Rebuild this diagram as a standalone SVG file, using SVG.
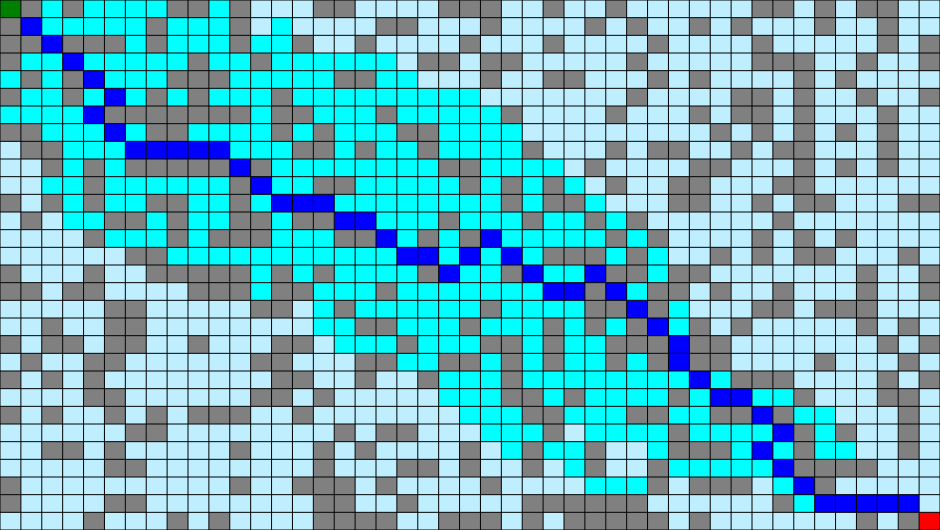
<svg xmlns="http://www.w3.org/2000/svg" width="940" height="530" viewBox="0 0 940 530">
<style>
.cells rect{width:1px;height:1px}
.g rect{fill:#808080}
.c rect{fill:#00ffff}
.b rect{fill:#0000ff}
.s rect{fill:#008000}
.r rect{fill:#ff0000}
.grid{fill:none;stroke:#000;stroke-width:1;vector-effect:non-scaling-stroke}
</style>
<rect id="background" x="0" y="0" width="940" height="530" fill="#bfefff"/>
<g id="maze" transform="scale(20.888889,17.666667)">
<g class="cells">
<g id="walls" class="g">
<rect x="1" y="0"/><rect x="3" y="0"/><rect x="8" y="0"/><rect x="9" y="0"/><rect x="11" y="0"/><rect x="15" y="0"/><rect x="16" y="0"/><rect x="21" y="0"/><rect x="22" y="0"/><rect x="23" y="0"/><rect x="26" y="0"/><rect x="29" y="0"/><rect x="36" y="0"/><rect x="37" y="0"/><rect x="39" y="0"/><rect x="41" y="0"/><rect x="42" y="0"/>
<rect x="0" y="1"/><rect x="7" y="1"/><rect x="11" y="1"/><rect x="18" y="1"/><rect x="19" y="1"/><rect x="23" y="1"/><rect x="28" y="1"/><rect x="30" y="1"/><rect x="33" y="1"/><rect x="35" y="1"/><rect x="39" y="1"/><rect x="42" y="1"/>
<rect x="0" y="2"/><rect x="1" y="2"/><rect x="3" y="2"/><rect x="4" y="2"/><rect x="5" y="2"/><rect x="7" y="2"/><rect x="11" y="2"/><rect x="14" y="2"/><rect x="17" y="2"/><rect x="22" y="2"/><rect x="26" y="2"/><rect x="31" y="2"/><rect x="36" y="2"/><rect x="42" y="2"/><rect x="44" y="2"/>
<rect x="0" y="3"/><rect x="9" y="3"/><rect x="12" y="3"/><rect x="20" y="3"/><rect x="21" y="3"/><rect x="23" y="3"/><rect x="24" y="3"/><rect x="30" y="3"/><rect x="36" y="3"/><rect x="37" y="3"/><rect x="38" y="3"/><rect x="41" y="3"/><rect x="44" y="3"/>
<rect x="1" y="4"/><rect x="3" y="4"/><rect x="8" y="4"/><rect x="9" y="4"/><rect x="10" y="4"/><rect x="16" y="4"/><rect x="17" y="4"/><rect x="23" y="4"/><rect x="26" y="4"/><rect x="27" y="4"/><rect x="31" y="4"/><rect x="33" y="4"/><rect x="38" y="4"/><rect x="40" y="4"/>
<rect x="0" y="5"/><rect x="3" y="5"/><rect x="7" y="5"/><rect x="9" y="5"/><rect x="13" y="5"/><rect x="30" y="5"/><rect x="35" y="5"/><rect x="36" y="5"/><rect x="38" y="5"/><rect x="41" y="5"/><rect x="44" y="5"/>
<rect x="5" y="6"/><rect x="6" y="6"/><rect x="7" y="6"/><rect x="8" y="6"/><rect x="9" y="6"/><rect x="10" y="6"/><rect x="11" y="6"/><rect x="13" y="6"/><rect x="14" y="6"/><rect x="18" y="6"/><rect x="24" y="6"/><rect x="29" y="6"/><rect x="33" y="6"/><rect x="35" y="6"/><rect x="36" y="6"/><rect x="38" y="6"/><rect x="42" y="6"/>
<rect x="0" y="7"/><rect x="1" y="7"/><rect x="7" y="7"/><rect x="8" y="7"/><rect x="13" y="7"/><rect x="15" y="7"/><rect x="19" y="7"/><rect x="20" y="7"/><rect x="34" y="7"/><rect x="36" y="7"/><rect x="38" y="7"/><rect x="40" y="7"/><rect x="42" y="7"/>
<rect x="1" y="8"/><rect x="2" y="8"/><rect x="14" y="8"/><rect x="15" y="8"/><rect x="17" y="8"/><rect x="20" y="8"/><rect x="25" y="8"/><rect x="29" y="8"/><rect x="31" y="8"/><rect x="32" y="8"/><rect x="35" y="8"/><rect x="37" y="8"/><rect x="38" y="8"/><rect x="42" y="8"/>
<rect x="2" y="9"/><rect x="4" y="9"/><rect x="6" y="9"/><rect x="7" y="9"/><rect x="8" y="9"/><rect x="9" y="9"/><rect x="10" y="9"/><rect x="12" y="9"/><rect x="21" y="9"/><rect x="22" y="9"/><rect x="28" y="9"/><rect x="33" y="9"/><rect x="34" y="9"/><rect x="38" y="9"/><rect x="40" y="9"/><rect x="42" y="9"/>
<rect x="4" y="10"/><rect x="11" y="10"/><rect x="15" y="10"/><rect x="16" y="10"/><rect x="22" y="10"/><rect x="24" y="10"/><rect x="26" y="10"/><rect x="29" y="10"/><rect x="32" y="10"/><rect x="33" y="10"/><rect x="37" y="10"/><rect x="38" y="10"/>
<rect x="0" y="11"/><rect x="2" y="11"/><rect x="4" y="11"/><rect x="7" y="11"/><rect x="8" y="11"/><rect x="11" y="11"/><rect x="24" y="11"/><rect x="26" y="11"/><rect x="27" y="11"/><rect x="32" y="11"/><rect x="33" y="11"/><rect x="36" y="11"/><rect x="38" y="11"/><rect x="39" y="11"/><rect x="43" y="11"/><rect x="44" y="11"/>
<rect x="1" y="12"/><rect x="5" y="12"/><rect x="6" y="12"/><rect x="8" y="12"/><rect x="11" y="12"/><rect x="12" y="12"/><rect x="14" y="12"/><rect x="15" y="12"/><rect x="21" y="12"/><rect x="25" y="12"/><rect x="28" y="12"/><rect x="30" y="12"/><rect x="37" y="12"/>
<rect x="4" y="13"/><rect x="8" y="13"/><rect x="10" y="13"/><rect x="11" y="13"/><rect x="12" y="13"/><rect x="16" y="13"/><rect x="17" y="13"/><rect x="20" y="13"/><rect x="22" y="13"/><rect x="29" y="13"/><rect x="31" y="13"/><rect x="36" y="13"/><rect x="38" y="13"/><rect x="40" y="13"/>
<rect x="6" y="14"/><rect x="7" y="14"/><rect x="26" y="14"/><rect x="27" y="14"/><rect x="28" y="14"/><rect x="30" y="14"/><rect x="34" y="14"/><rect x="36" y="14"/><rect x="38" y="14"/><rect x="39" y="14"/><rect x="43" y="14"/>
<rect x="0" y="15"/><rect x="4" y="15"/><rect x="7" y="15"/><rect x="8" y="15"/><rect x="9" y="15"/><rect x="10" y="15"/><rect x="11" y="15"/><rect x="13" y="15"/><rect x="15" y="15"/><rect x="20" y="15"/><rect x="24" y="15"/><rect x="29" y="15"/><rect x="30" y="15"/><rect x="32" y="15"/><rect x="33" y="15"/><rect x="41" y="15"/><rect x="44" y="15"/>
<rect x="0" y="16"/><rect x="1" y="16"/><rect x="3" y="16"/><rect x="4" y="16"/><rect x="9" y="16"/><rect x="10" y="16"/><rect x="11" y="16"/><rect x="13" y="16"/><rect x="14" y="16"/><rect x="18" y="16"/><rect x="28" y="16"/><rect x="31" y="16"/><rect x="32" y="16"/><rect x="34" y="16"/><rect x="37" y="16"/><rect x="41" y="16"/><rect x="44" y="16"/>
<rect x="5" y="17"/><rect x="6" y="17"/><rect x="12" y="17"/><rect x="13" y="17"/><rect x="16" y="17"/><rect x="23" y="17"/><rect x="28" y="17"/><rect x="29" y="17"/><rect x="31" y="17"/><rect x="36" y="17"/><rect x="37" y="17"/><rect x="39" y="17"/><rect x="40" y="17"/><rect x="41" y="17"/>
<rect x="2" y="18"/><rect x="5" y="18"/><rect x="6" y="18"/><rect x="17" y="18"/><rect x="18" y="18"/><rect x="22" y="18"/><rect x="26" y="18"/><rect x="28" y="18"/><rect x="30" y="18"/><rect x="33" y="18"/><rect x="35" y="18"/><rect x="41" y="18"/><rect x="43" y="18"/>
<rect x="0" y="19"/><rect x="2" y="19"/><rect x="3" y="19"/><rect x="5" y="19"/><rect x="6" y="19"/><rect x="9" y="19"/><rect x="13" y="19"/><rect x="14" y="19"/><rect x="19" y="19"/><rect x="23" y="19"/><rect x="24" y="19"/><rect x="26" y="19"/><rect x="29" y="19"/><rect x="30" y="19"/><rect x="31" y="19"/><rect x="33" y="19"/><rect x="34" y="19"/><rect x="42" y="19"/><rect x="44" y="19"/>
<rect x="1" y="20"/><rect x="4" y="20"/><rect x="5" y="20"/><rect x="12" y="20"/><rect x="13" y="20"/><rect x="17" y="20"/><rect x="18" y="20"/><rect x="21" y="20"/><rect x="22" y="20"/><rect x="24" y="20"/><rect x="26" y="20"/><rect x="29" y="20"/><rect x="31" y="20"/><rect x="33" y="20"/><rect x="34" y="20"/><rect x="39" y="20"/><rect x="43" y="20"/>
<rect x="0" y="21"/><rect x="2" y="21"/><rect x="4" y="21"/><rect x="13" y="21"/><rect x="14" y="21"/><rect x="17" y="21"/><rect x="20" y="21"/><rect x="24" y="21"/><rect x="35" y="21"/><rect x="36" y="21"/><rect x="37" y="21"/><rect x="42" y="21"/><rect x="44" y="21"/>
<rect x="4" y="22"/><rect x="5" y="22"/><rect x="12" y="22"/><rect x="13" y="22"/><rect x="15" y="22"/><rect x="24" y="22"/><rect x="25" y="22"/><rect x="27" y="22"/><rect x="32" y="22"/><rect x="38" y="22"/><rect x="42" y="22"/><rect x="43" y="22"/>
<rect x="0" y="23"/><rect x="2" y="23"/><rect x="5" y="23"/><rect x="7" y="23"/><rect x="9" y="23"/><rect x="10" y="23"/><rect x="11" y="23"/><rect x="14" y="23"/><rect x="25" y="23"/><rect x="26" y="23"/><rect x="30" y="23"/><rect x="31" y="23"/><rect x="34" y="23"/><rect x="35" y="23"/><rect x="37" y="23"/><rect x="43" y="23"/>
<rect x="6" y="24"/><rect x="7" y="24"/><rect x="16" y="24"/><rect x="18" y="24"/><rect x="19" y="24"/><rect x="26" y="24"/><rect x="32" y="24"/><rect x="38" y="24"/><rect x="40" y="24"/><rect x="43" y="24"/>
<rect x="2" y="25"/><rect x="3" y="25"/><rect x="5" y="25"/><rect x="11" y="25"/><rect x="15" y="25"/><rect x="17" y="25"/><rect x="22" y="25"/><rect x="25" y="25"/><rect x="28" y="25"/><rect x="32" y="25"/><rect x="33" y="25"/><rect x="34" y="25"/><rect x="38" y="25"/><rect x="43" y="25"/>
<rect x="5" y="26"/><rect x="6" y="26"/><rect x="15" y="26"/><rect x="19" y="26"/><rect x="20" y="26"/><rect x="22" y="26"/><rect x="25" y="26"/><rect x="28" y="26"/><rect x="31" y="26"/><rect x="38" y="26"/><rect x="39" y="26"/><rect x="40" y="26"/><rect x="41" y="26"/>
<rect x="0" y="27"/><rect x="11" y="27"/><rect x="14" y="27"/><rect x="15" y="27"/><rect x="16" y="27"/><rect x="18" y="27"/><rect x="23" y="27"/><rect x="31" y="27"/><rect x="33" y="27"/><rect x="34" y="27"/><rect x="35" y="27"/><rect x="39" y="27"/>
<rect x="0" y="28"/><rect x="5" y="28"/><rect x="6" y="28"/><rect x="15" y="28"/><rect x="16" y="28"/><rect x="19" y="28"/><rect x="25" y="28"/><rect x="26" y="28"/><rect x="27" y="28"/><rect x="28" y="28"/><rect x="29" y="28"/><rect x="30" y="28"/><rect x="37" y="28"/>
<rect x="4" y="29"/><rect x="8" y="29"/><rect x="10" y="29"/><rect x="15" y="29"/><rect x="16" y="29"/><rect x="17" y="29"/><rect x="18" y="29"/><rect x="21" y="29"/><rect x="22" y="29"/><rect x="23" y="29"/><rect x="25" y="29"/><rect x="27" y="29"/><rect x="28" y="29"/><rect x="29" y="29"/><rect x="30" y="29"/><rect x="31" y="29"/><rect x="33" y="29"/><rect x="41" y="29"/><rect x="43" y="29"/>
</g>
<g id="visited" class="c">
<rect x="2" y="0"/><rect x="4" y="0"/><rect x="5" y="0"/><rect x="6" y="0"/><rect x="7" y="0"/><rect x="10" y="0"/>
<rect x="2" y="1"/><rect x="3" y="1"/><rect x="4" y="1"/><rect x="5" y="1"/><rect x="6" y="1"/><rect x="8" y="1"/><rect x="9" y="1"/><rect x="10" y="1"/><rect x="13" y="1"/>
<rect x="6" y="2"/><rect x="8" y="2"/><rect x="9" y="2"/><rect x="10" y="2"/><rect x="12" y="2"/><rect x="13" y="2"/>
<rect x="1" y="3"/><rect x="2" y="3"/><rect x="4" y="3"/><rect x="5" y="3"/><rect x="6" y="3"/><rect x="7" y="3"/><rect x="8" y="3"/><rect x="10" y="3"/><rect x="11" y="3"/><rect x="13" y="3"/><rect x="14" y="3"/><rect x="15" y="3"/><rect x="16" y="3"/><rect x="17" y="3"/><rect x="18" y="3"/>
<rect x="0" y="4"/><rect x="2" y="4"/><rect x="5" y="4"/><rect x="6" y="4"/><rect x="7" y="4"/><rect x="11" y="4"/><rect x="12" y="4"/><rect x="13" y="4"/><rect x="14" y="4"/><rect x="15" y="4"/><rect x="18" y="4"/><rect x="19" y="4"/>
<rect x="1" y="5"/><rect x="2" y="5"/><rect x="4" y="5"/><rect x="6" y="5"/><rect x="8" y="5"/><rect x="10" y="5"/><rect x="11" y="5"/><rect x="12" y="5"/><rect x="14" y="5"/><rect x="15" y="5"/><rect x="16" y="5"/><rect x="17" y="5"/><rect x="18" y="5"/><rect x="19" y="5"/><rect x="20" y="5"/><rect x="21" y="5"/><rect x="22" y="5"/>
<rect x="0" y="6"/><rect x="1" y="6"/><rect x="2" y="6"/><rect x="3" y="6"/><rect x="12" y="6"/><rect x="15" y="6"/><rect x="16" y="6"/><rect x="17" y="6"/><rect x="19" y="6"/><rect x="20" y="6"/><rect x="21" y="6"/><rect x="22" y="6"/><rect x="23" y="6"/>
<rect x="2" y="7"/><rect x="3" y="7"/><rect x="4" y="7"/><rect x="6" y="7"/><rect x="9" y="7"/><rect x="10" y="7"/><rect x="11" y="7"/><rect x="12" y="7"/><rect x="14" y="7"/><rect x="16" y="7"/><rect x="17" y="7"/><rect x="18" y="7"/><rect x="21" y="7"/><rect x="22" y="7"/><rect x="23" y="7"/><rect x="24" y="7"/>
<rect x="3" y="8"/><rect x="4" y="8"/><rect x="5" y="8"/><rect x="11" y="8"/><rect x="12" y="8"/><rect x="13" y="8"/><rect x="16" y="8"/><rect x="18" y="8"/><rect x="19" y="8"/><rect x="21" y="8"/><rect x="22" y="8"/><rect x="23" y="8"/><rect x="24" y="8"/>
<rect x="3" y="9"/><rect x="5" y="9"/><rect x="13" y="9"/><rect x="14" y="9"/><rect x="15" y="9"/><rect x="16" y="9"/><rect x="17" y="9"/><rect x="18" y="9"/><rect x="19" y="9"/><rect x="20" y="9"/><rect x="23" y="9"/><rect x="24" y="9"/><rect x="25" y="9"/><rect x="26" y="9"/>
<rect x="2" y="10"/><rect x="3" y="10"/><rect x="5" y="10"/><rect x="6" y="10"/><rect x="7" y="10"/><rect x="8" y="10"/><rect x="9" y="10"/><rect x="10" y="10"/><rect x="13" y="10"/><rect x="14" y="10"/><rect x="17" y="10"/><rect x="18" y="10"/><rect x="19" y="10"/><rect x="20" y="10"/><rect x="21" y="10"/><rect x="23" y="10"/><rect x="25" y="10"/><rect x="27" y="10"/>
<rect x="3" y="11"/><rect x="5" y="11"/><rect x="6" y="11"/><rect x="9" y="11"/><rect x="10" y="11"/><rect x="12" y="11"/><rect x="16" y="11"/><rect x="17" y="11"/><rect x="18" y="11"/><rect x="19" y="11"/><rect x="20" y="11"/><rect x="21" y="11"/><rect x="22" y="11"/><rect x="23" y="11"/><rect x="25" y="11"/><rect x="28" y="11"/>
<rect x="3" y="12"/><rect x="4" y="12"/><rect x="7" y="12"/><rect x="9" y="12"/><rect x="10" y="12"/><rect x="13" y="12"/><rect x="18" y="12"/><rect x="19" y="12"/><rect x="20" y="12"/><rect x="22" y="12"/><rect x="23" y="12"/><rect x="24" y="12"/><rect x="26" y="12"/><rect x="27" y="12"/><rect x="29" y="12"/>
<rect x="5" y="13"/><rect x="6" y="13"/><rect x="7" y="13"/><rect x="9" y="13"/><rect x="13" y="13"/><rect x="14" y="13"/><rect x="15" y="13"/><rect x="19" y="13"/><rect x="21" y="13"/><rect x="24" y="13"/><rect x="25" y="13"/><rect x="26" y="13"/><rect x="27" y="13"/><rect x="28" y="13"/><rect x="30" y="13"/>
<rect x="8" y="14"/><rect x="9" y="14"/><rect x="10" y="14"/><rect x="11" y="14"/><rect x="12" y="14"/><rect x="13" y="14"/><rect x="14" y="14"/><rect x="15" y="14"/><rect x="16" y="14"/><rect x="17" y="14"/><rect x="18" y="14"/><rect x="21" y="14"/><rect x="23" y="14"/><rect x="25" y="14"/><rect x="29" y="14"/><rect x="31" y="14"/>
<rect x="12" y="15"/><rect x="14" y="15"/><rect x="16" y="15"/><rect x="17" y="15"/><rect x="18" y="15"/><rect x="19" y="15"/><rect x="22" y="15"/><rect x="23" y="15"/><rect x="26" y="15"/><rect x="27" y="15"/><rect x="31" y="15"/>
<rect x="12" y="16"/><rect x="15" y="16"/><rect x="16" y="16"/><rect x="17" y="16"/><rect x="19" y="16"/><rect x="20" y="16"/><rect x="21" y="16"/><rect x="22" y="16"/><rect x="23" y="16"/><rect x="24" y="16"/><rect x="25" y="16"/><rect x="30" y="16"/>
<rect x="15" y="17"/><rect x="17" y="17"/><rect x="18" y="17"/><rect x="19" y="17"/><rect x="20" y="17"/><rect x="21" y="17"/><rect x="22" y="17"/><rect x="24" y="17"/><rect x="25" y="17"/><rect x="26" y="17"/><rect x="27" y="17"/><rect x="32" y="17"/>
<rect x="15" y="18"/><rect x="16" y="18"/><rect x="19" y="18"/><rect x="20" y="18"/><rect x="21" y="18"/><rect x="23" y="18"/><rect x="24" y="18"/><rect x="25" y="18"/><rect x="27" y="18"/><rect x="29" y="18"/><rect x="32" y="18"/>
<rect x="16" y="19"/><rect x="17" y="19"/><rect x="18" y="19"/><rect x="20" y="19"/><rect x="21" y="19"/><rect x="22" y="19"/><rect x="25" y="19"/><rect x="27" y="19"/><rect x="28" y="19"/>
<rect x="19" y="20"/><rect x="20" y="20"/><rect x="23" y="20"/><rect x="25" y="20"/><rect x="27" y="20"/><rect x="28" y="20"/><rect x="30" y="20"/>
<rect x="21" y="21"/><rect x="22" y="21"/><rect x="23" y="21"/><rect x="25" y="21"/><rect x="26" y="21"/><rect x="27" y="21"/><rect x="28" y="21"/><rect x="29" y="21"/><rect x="30" y="21"/><rect x="31" y="21"/><rect x="32" y="21"/><rect x="34" y="21"/>
<rect x="21" y="22"/><rect x="22" y="22"/><rect x="23" y="22"/><rect x="26" y="22"/><rect x="28" y="22"/><rect x="29" y="22"/><rect x="30" y="22"/><rect x="31" y="22"/><rect x="33" y="22"/><rect x="36" y="22"/><rect x="37" y="22"/>
<rect x="22" y="23"/><rect x="23" y="23"/><rect x="24" y="23"/><rect x="27" y="23"/><rect x="28" y="23"/><rect x="29" y="23"/><rect x="32" y="23"/><rect x="33" y="23"/><rect x="38" y="23"/><rect x="39" y="23"/>
<rect x="23" y="24"/><rect x="24" y="24"/><rect x="25" y="24"/><rect x="28" y="24"/><rect x="29" y="24"/><rect x="30" y="24"/><rect x="31" y="24"/><rect x="33" y="24"/><rect x="34" y="24"/><rect x="35" y="24"/><rect x="36" y="24"/><rect x="39" y="24"/>
<rect x="24" y="25"/><rect x="26" y="25"/><rect x="27" y="25"/><rect x="31" y="25"/><rect x="35" y="25"/><rect x="37" y="25"/><rect x="39" y="25"/><rect x="40" y="25"/>
<rect x="27" y="26"/><rect x="32" y="26"/><rect x="33" y="26"/><rect x="34" y="26"/><rect x="35" y="26"/><rect x="36" y="26"/>
<rect x="28" y="27"/><rect x="29" y="27"/><rect x="30" y="27"/><rect x="37" y="27"/>
<rect x="38" y="28"/>
</g>
<g id="path" class="b">
<rect x="1" y="1"/><rect x="2" y="2"/><rect x="3" y="3"/><rect x="4" y="4"/><rect x="5" y="5"/><rect x="4" y="6"/><rect x="5" y="7"/>
<rect x="6" y="8"/><rect x="7" y="8"/><rect x="8" y="8"/><rect x="9" y="8"/><rect x="10" y="8"/><rect x="11" y="9"/><rect x="12" y="10"/>
<rect x="13" y="11"/><rect x="14" y="11"/><rect x="15" y="11"/><rect x="16" y="12"/><rect x="17" y="12"/><rect x="18" y="13"/><rect x="23" y="13"/>
<rect x="19" y="14"/><rect x="20" y="14"/><rect x="22" y="14"/><rect x="24" y="14"/><rect x="21" y="15"/><rect x="25" y="15"/><rect x="28" y="15"/>
<rect x="26" y="16"/><rect x="27" y="16"/><rect x="29" y="16"/><rect x="30" y="17"/><rect x="31" y="18"/><rect x="32" y="19"/><rect x="32" y="20"/>
<rect x="33" y="21"/><rect x="34" y="22"/><rect x="35" y="22"/><rect x="36" y="23"/><rect x="37" y="24"/><rect x="36" y="25"/><rect x="37" y="26"/>
<rect x="38" y="27"/><rect x="39" y="28"/><rect x="40" y="28"/><rect x="41" y="28"/><rect x="42" y="28"/><rect x="43" y="28"/>
</g>
<g id="start" class="s"><rect x="0" y="0"/></g>
<g id="goal" class="r"><rect x="44" y="29"/></g>
</g>
<path id="gridlines" class="grid" d="M0 0V30M1 0V30M2 0V30M3 0V30M4 0V30M5 0V30M6 0V30M7 0V30M8 0V30M9 0V30M10 0V30M11 0V30M12 0V30M13 0V30M14 0V30M15 0V30M16 0V30M17 0V30M18 0V30M19 0V30M20 0V30M21 0V30M22 0V30M23 0V30M24 0V30M25 0V30M26 0V30M27 0V30M28 0V30M29 0V30M30 0V30M31 0V30M32 0V30M33 0V30M34 0V30M35 0V30M36 0V30M37 0V30M38 0V30M39 0V30M40 0V30M41 0V30M42 0V30M43 0V30M44 0V30M45 0V30M0 0H45M0 1H45M0 2H45M0 3H45M0 4H45M0 5H45M0 6H45M0 7H45M0 8H45M0 9H45M0 10H45M0 11H45M0 12H45M0 13H45M0 14H45M0 15H45M0 16H45M0 17H45M0 18H45M0 19H45M0 20H45M0 21H45M0 22H45M0 23H45M0 24H45M0 25H45M0 26H45M0 27H45M0 28H45M0 29H45M0 30H45"/>
</g>
</svg>
